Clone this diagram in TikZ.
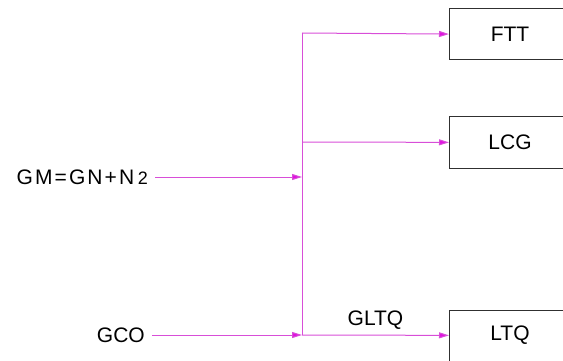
\documentclass[tikz,border=0pt]{standalone}
\usepackage{fontspec}
\setmainfont{Liberation Sans}
\usepackage{xcolor}
\definecolor{cFlow}{HTML}{D84ED8}
\definecolor{cTip}{HTML}{E010E0}
\definecolor{cBox}{HTML}{303030}
\usepackage{tikz}
\usetikzlibrary{positioning,arrows.meta}
\tikzset{
  node-src/.style={inner xsep=7pt,inner ysep=0pt,anchor=east,
    font=\fontsize{21}{21}\selectfont},
  node-box/.style={draw=cBox,line width=1pt,anchor=west,
    minimum width=121pt,minimum height=51pt,
    font=\fontsize{21}{21}\selectfont},
  pipe/.style={draw=cFlow,line width=1pt},
  arrow/.style={pipe,-{Triangle[length=10pt,width=6pt,fill=cTip]}},
}
\begin{document}
\begin{tikzpicture}[x=1pt,y=-1pt]
  \useasboundingbox (0,0) rectangle (563,361);
  \node[node-src] (gm)  at (155,177)
    {\addfontfeatures{LetterSpace=10}GM=GN+N\,{\fontsize{18}{18}\selectfont 2}};
  \node[node-src] (gco) at (152,335) {GCO};
  \coordinate (jtop) at (302,33);
  \coordinate (jlcg) at (302,142);
  \coordinate (jgm)  at (302,177);
  \coordinate (jgco) at (302,335);
  \node[node-box] (ftt) at (449,34.5)  {FTT};
  \node[node-box] (lcg) at (449,142.5) {LCG};
  \node[node-box] (ltq) at (449,335.5) {LTQ};
  \draw[pipe]  (jtop) -- (jgco);
  \draw[arrow] (gm)   -- (jgm);
  \draw[arrow] (gco)  -- (jgco);
  \draw[arrow] (jtop) -- (ftt);
  \draw[arrow] (jlcg) -- (lcg);
  \draw[arrow] (jgco) -- (ltq)
    node[midway,above=2pt,font=\fontsize{21}{21}\selectfont] {GLTQ};
\end{tikzpicture}
\end{document}
